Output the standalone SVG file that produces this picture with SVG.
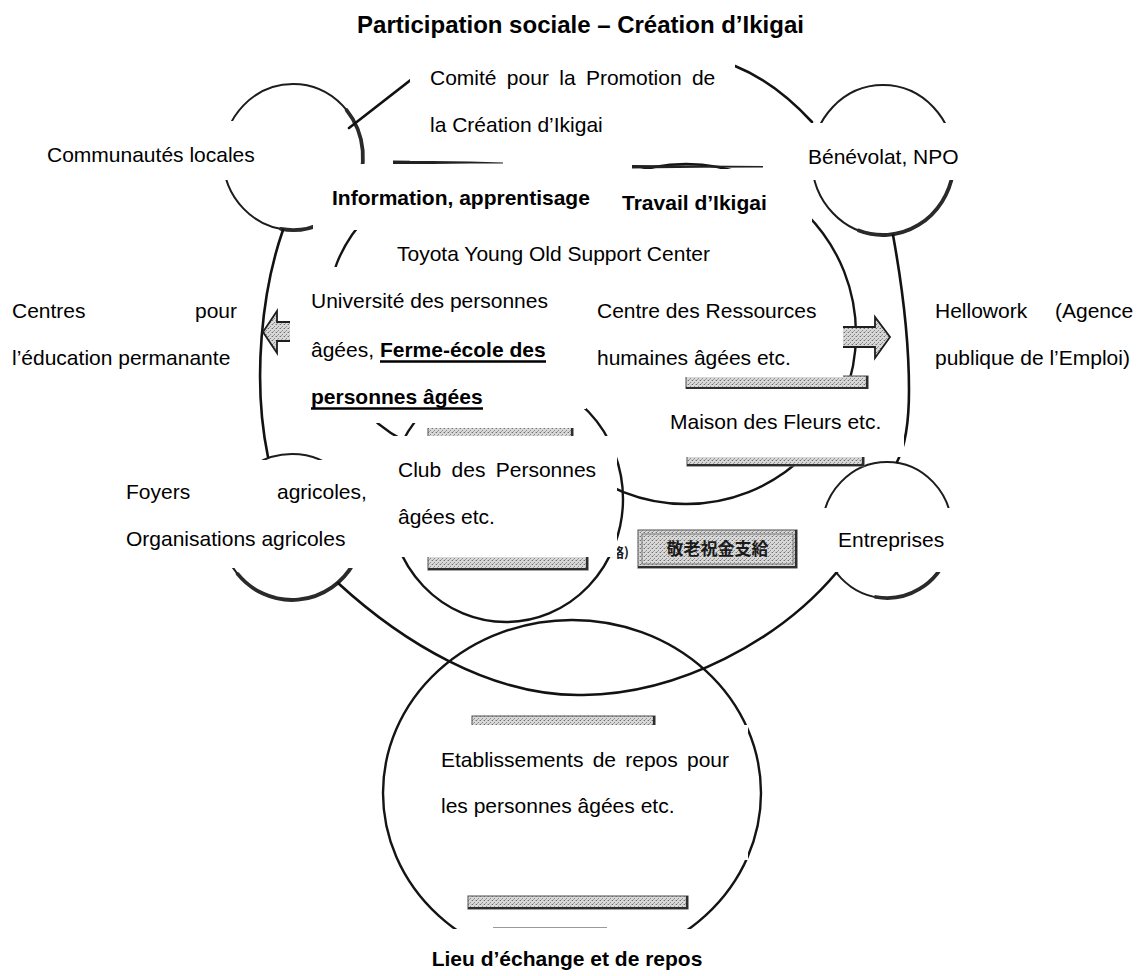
<svg xmlns="http://www.w3.org/2000/svg" width="1137" height="976" viewBox="0 0 1137 976">
  <defs>
    <!-- halftone screen used for the grey label plates and arrows -->
    <pattern id="halftone" width="4" height="4" patternUnits="userSpaceOnUse">
      <rect width="4" height="4" fill="#d8d8d8"/>
      <rect x="0" y="0" width="1" height="1" fill="#6e6e6e"/>
      <rect x="2" y="2" width="1" height="1" fill="#8a8a8a"/>
      <rect x="3" y="0" width="1" height="1" fill="#b2b2b2"/>
      <rect x="1" y="3" width="1" height="1" fill="#a0a0a0"/>
    </pattern>
    <style>
      .ring { fill: none; stroke: #1c1c1c; stroke-width: 2; }
      .big { fill: none; stroke: #141414; stroke-width: 2.4; }
      .shadow { fill: none; stroke: #2a2a2a; stroke-width: 3.8; stroke-linecap: round; }
      .ln { fill: none; stroke: #121212; stroke-width: 2.6; stroke-linecap: round; }
      .arrow { fill: url(#halftone); stroke: #1e1e1e; stroke-width: 1.8; stroke-linejoin: miter; }
      .plate { fill: url(#halftone); stroke: #6a6a6a; stroke-width: 1.2; }
      .edge { fill: none; stroke: #2e2e2e; stroke-width: 2.2; }
      .cap { fill: #222; }
      .box { fill: #ffffff; }
      .t { font-family: "Liberation Sans", Arial, sans-serif; font-size: 21px; fill: #000; }
      .b { font-weight: bold; }
      .head { font-size: 24px; }
      .jp { font-family: "Noto Sans CJK JP", sans-serif; font-weight: bold; fill: #1a1a1a; }
    </style>
  </defs>

  <rect width="1137" height="976" fill="#ffffff"/>

  <!-- circles of the scheme -->
  <g id="rings">
    <g id="ring-communautes">
      <ellipse class="ring" cx="293" cy="157" rx="70" ry="73"/>
      <path class="shadow" d="M346.6,110.1 A70 73 0 0 1 280.8,228.9"/>
    </g>
    <g id="ring-benevolat">
      <ellipse class="ring" cx="883" cy="160" rx="71" ry="75"/>
      <path class="shadow" d="M952.9,173 A71 75 0 0 1 858.7,230.5"/>
    </g>
    <g id="ring-foyers">
      <ellipse class="ring" cx="292" cy="527" rx="71" ry="73"/>
      <path class="shadow" d="M353.5,563.5 A71 73 0 0 1 237.6,573.9"/>
    </g>
    <g id="ring-entreprises">
      <ellipse class="ring" cx="887" cy="530" rx="65" ry="68"/>
      <path class="shadow" d="M948.1,553.3 A65 68 0 0 1 875.7,597"/>
    </g>
    <g id="ring-information">
      <circle class="big" cx="468" cy="315" r="141"/>
    </g>
    <g id="ring-travail">
      <circle class="big" cx="686" cy="334" r="170"/>
    </g>
    <g id="ring-club">
      <ellipse class="big" cx="506" cy="499" rx="117" ry="123"/>
    </g>
    <g id="ring-lieu">
      <ellipse class="big" cx="572" cy="793" rx="189" ry="173"/>
    </g>
  </g>

  <!-- outer ring linking the four corner circles, and the two arrows -->
  <g id="connectors">
    <path class="ln" d="M349,128 L412,79 Q575,25 735,66 Q775,82 812,122"/>
    <path class="ln" d="M283,230 C262,290 252,380 268,457"/>
    <path class="ln" d="M893,235 C903,290 909,340 909,390 C909,420 906,445 897,462"/>
    <path class="ln" d="M338,583 C400,640 490,697 583,695 C680,694 780,640 837,572"/>
    <polygon class="arrow" points="263,332 277,311 277,322 296,322 296,341 277,341 277,353"/>
    <polygon class="arrow" points="836,327 875,327 875,317 890,337 875,358 875,347 836,347"/>
  </g>

  <!-- grey label plates -->
  <g id="plates">
    <polygon class="cap" points="393,160.5 470,161.6 503,162.4 503,163.4 470,163.6 393,164.6"/>
    <polygon class="cap" points="632,165 700,165.6 763,166 763,167.4 700,167.8 632,168.6"/>
    <g>
      <rect class="plate" x="686" y="376" width="182" height="13"/>
      <path class="edge" d="M686,388 H867 V376"/>
    </g>
    <g>
      <rect class="plate" x="687" y="451" width="177" height="15"/>
      <path class="edge" d="M687,465 H863 V451"/>
    </g>
    <g>
      <rect class="plate" x="428" y="427" width="145" height="14"/>
      <path class="edge" d="M572,427 V440"/>
    </g>
    <g>
      <rect class="plate" x="428" y="550" width="160" height="20"/>
      <path class="edge" d="M428,569 H587 V550"/>
    </g>
    <g id="plate-keiro">
      <rect class="plate" x="638" y="530" width="159" height="38"/>
      <rect x="642" y="534" width="151" height="30" fill="none" stroke="#7a7a7a" stroke-width="1"/>
      <path class="edge" d="M638,567 H796 V530"/>
      <text class="jp" x="717.5" y="555" font-size="17" text-anchor="middle">敬老祝金支給</text>
    </g>
    <text class="jp" x="611" y="557" font-size="13">略)</text>
    <g>
      <rect class="plate" x="472" y="716" width="183" height="14"/>
      <path class="edge" d="M654,716 V729"/>
    </g>
    <g>
      <rect class="plate" x="468" y="896" width="220" height="13"/>
      <path class="edge" d="M468,908 H687 V896"/>
    </g>
    <path d="M493,927.5 H607" stroke="#9a9a9a" stroke-width="1.2"/>
  </g>

  <!-- white label cards with the French captions -->
  <g id="labels">
    <g id="label-comite">
      <rect class="box" x="410" y="42" width="325" height="119"/>
      <text class="t" x="430" y="85" word-spacing="4.5">Comité pour la Promotion de</text>
      <text class="t" x="430" y="132">la Création d’Ikigai</text>
    </g>
    <g id="label-communautes">
      <rect class="box" x="40" y="121" width="265" height="59"/>
      <text class="t" x="47" y="162">Communautés locales</text>
    </g>
    <g id="label-benevolat">
      <rect class="box" x="763" y="123" width="247" height="57"/>
      <text class="t" x="808" y="164">Bénévolat, NPO</text>
    </g>
    <g id="label-information">
      <rect class="box" x="313" y="164" width="302" height="66"/>
      <text class="t b" x="332" y="205">Information, apprentisage</text>
    </g>
    <g id="label-travail">
      <rect class="box" x="600" y="169" width="212" height="61"/>
      <text class="t b" x="622" y="210">Travail d’Ikigai</text>
    </g>
    <g id="label-toyota">
      <rect class="box" x="365" y="228" width="441" height="58"/>
      <text class="t" x="397" y="261">Toyota Young Old Support Center</text>
    </g>
    <g id="label-universite">
      <rect class="box" x="290" y="267" width="306" height="131"/>
      <rect class="box" x="300" y="398" width="286" height="11"/>
      <rect class="box" x="300" y="409" width="276" height="14"/>
      <rect class="box" x="420" y="423" width="156" height="5"/>
      <text class="t" x="311" y="308">Université des personnes</text>
      <text class="t" x="311" y="357">âgées, <tspan class="b">Ferme-école des</tspan></text>
      <text class="t b" x="311" y="404">personnes âgées</text>
      <path d="M380,361.5 H546 M311,408.5 H483" stroke="#000" stroke-width="2.3"/>
    </g>
    <g id="label-centres">
      <rect class="box" x="0" y="285" width="245" height="95"/>
      <text class="t" y="318"><tspan x="12">Centres</tspan><tspan x="195">pour</tspan></text>
      <text class="t" x="12" y="365">l’éducation permanante</text>
    </g>
    <g id="label-ressources">
      <rect class="box" x="588" y="285" width="255" height="92"/>
      <text class="t" x="597" y="318">Centre des Ressources</text>
      <text class="t" x="597" y="365">humaines âgées etc.</text>
    </g>
    <g id="label-hellowork">
      <rect class="box" x="918" y="285" width="219" height="95"/>
      <text class="t" y="318"><tspan x="935">Hellowork</tspan><tspan x="1055">(Agence</tspan></text>
      <text class="t" x="935" y="365">publique de l’Emploi)</text>
    </g>
    <g id="label-maison">
      <rect class="box" x="620" y="389" width="284" height="68"/>
      <text class="t" x="670" y="429">Maison des Fleurs etc.</text>
    </g>
    <g id="label-club">
      <rect class="box" x="380" y="436" width="237" height="121"/>
      <text class="t" x="398" y="477" word-spacing="4.5">Club des Personnes</text>
      <text class="t" x="398" y="524">âgées etc.</text>
    </g>
    <g id="label-foyers">
      <rect class="box" x="110" y="460" width="270" height="108"/>
      <text class="t" y="499"><tspan x="126">Foyers</tspan><tspan x="277">agricoles,</tspan></text>
      <text class="t" x="126" y="546">Organisations agricoles</text>
    </g>
    <g id="label-entreprises">
      <rect class="box" x="815" y="508" width="150" height="64"/>
      <text class="t" x="838" y="547">Entreprises</text>
    </g>
    <g id="label-etablissements">
      <rect class="box" x="425" y="725" width="323" height="135"/>
      <text class="t" x="441" y="767" word-spacing="3.4">Etablissements de repos pour</text>
      <text class="t" x="441" y="813">les personnes âgées etc.</text>
    </g>
    <g id="label-lieu">
      <rect class="box" x="380" y="929" width="400" height="47"/>
      <text class="t b" x="567" y="966" text-anchor="middle">Lieu d’échange et de repos</text>
    </g>
    <g id="label-title">
      <text class="t b head" x="580.5" y="33" text-anchor="middle">Participation sociale – Création d’Ikigai</text>
    </g>
  </g>
</svg>
